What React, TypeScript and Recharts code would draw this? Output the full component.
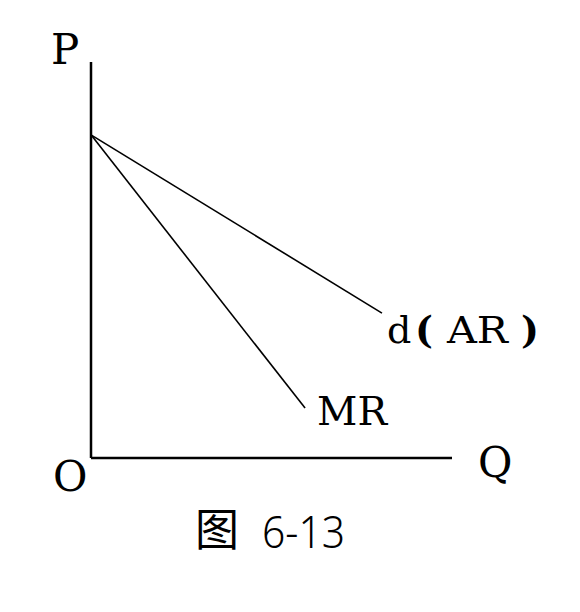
import React from "react";
import { LineChart, Line, XAxis, YAxis, LabelList } from "recharts";

// Q / P values (arbitrary 0-100 units)
const arQ = [0, 80.6];
const arP = [81.6, 36.6];
const mrQ = [0, 59.3];
const mrP = [81.6, 12.6];

const AXIS_LABELS = { price: "P", quantity: "Q", origin: "O" };
const CURVE_LABELS = { ar: ["d", "(", "AR", ")"], mr: "MR" };
const CAPTION = ["图", "6-13"];

const arData = arQ.map((q, i) => ({ q, p: arP[i] }));
const mrData = mrQ.map((q, i) => ({ q, p: mrP[i] }));

const FONT = "'DejaVu Serif', 'Liberation Serif', serif";

function ArLabel(props: any) {
  const { x, y, index } = props;
  if (index !== arData.length - 1) return null;
  const base = y + 30;
  const [d, open, ar, close] = CURVE_LABELS.ar;
  return (
    <g fontFamily={FONT} fontSize={38} fill="#000">
      <text x={x + 5} y={base}>{d}</text>
      <text x={x + 33} y={base} fontWeight="bold">{open}</text>
      <text x={x + 65} y={base} textLength={61} lengthAdjust="spacingAndGlyphs">{ar}</text>
      <text x={x + 139} y={base} fontWeight="bold">{close}</text>
    </g>
  );
}

function MrLabel(props: any) {
  const { x, y, index } = props;
  if (index !== mrData.length - 1) return null;
  return (
    <text
      x={x + 12}
      y={y + 17}
      fontFamily={FONT}
      fontSize={40}
      fill="#000"
      textLength={70}
      lengthAdjust="spacingAndGlyphs"
    >
      {CURVE_LABELS.mr}
    </text>
  );
}

export default function App() {
  return (
    <div style={{ position: "absolute", left: 0, top: 0, width: 580, height: 612, background: "#fff" }}>
      <LineChart
        width={580}
        height={612}
        margin={{ top: 62, right: 128, left: 90, bottom: 153 }}
      >
        <XAxis
          type="number"
          dataKey="q"
          domain={[0, 100]}
          height={1}
          tick={false}
          tickLine={false}
          axisLine={{ stroke: "#000", strokeWidth: 2.5 }}
        />
        <YAxis
          type="number"
          dataKey="p"
          domain={[0, 100]}
          width={1}
          tick={false}
          tickLine={false}
          axisLine={{ stroke: "#000", strokeWidth: 2.5 }}
        />
        <Line
          data={arData}
          dataKey="p"
          type="linear"
          stroke="#000"
          strokeWidth={1.6}
          dot={false}
          isAnimationActive={false}
        >
          <LabelList dataKey="p" content={ArLabel} />
        </Line>
        <Line
          data={mrData}
          dataKey="p"
          type="linear"
          stroke="#000"
          strokeWidth={1.6}
          dot={false}
          isAnimationActive={false}
        >
          <LabelList dataKey="p" content={MrLabel} />
        </Line>
      </LineChart>
      <svg
        width={580}
        height={612}
        style={{ position: "absolute", left: 0, top: 0, pointerEvents: "none" }}
      >
        <g fontFamily={FONT} fontSize={42} fill="#000">
          <text x={51} y={64}>{AXIS_LABELS.price}</text>
          <text x={53} y={491}>{AXIS_LABELS.origin}</text>
          <text x={478} y={477}>{AXIS_LABELS.quantity}</text>
        </g>
        <text x={195} y={546} fontFamily="'Noto Sans CJK SC', sans-serif" fontSize={44} fill="#000">
          {CAPTION[0]}
        </text>
        <text
          x={262}
          y={548}
          fontFamily="'Noto Sans', sans-serif"
          fontWeight={300}
          fontSize={44}
          fill="#000"
          textLength={83}
          lengthAdjust="spacingAndGlyphs"
        >
          {CAPTION[1]}
        </text>
      </svg>
    </div>
  );
}
